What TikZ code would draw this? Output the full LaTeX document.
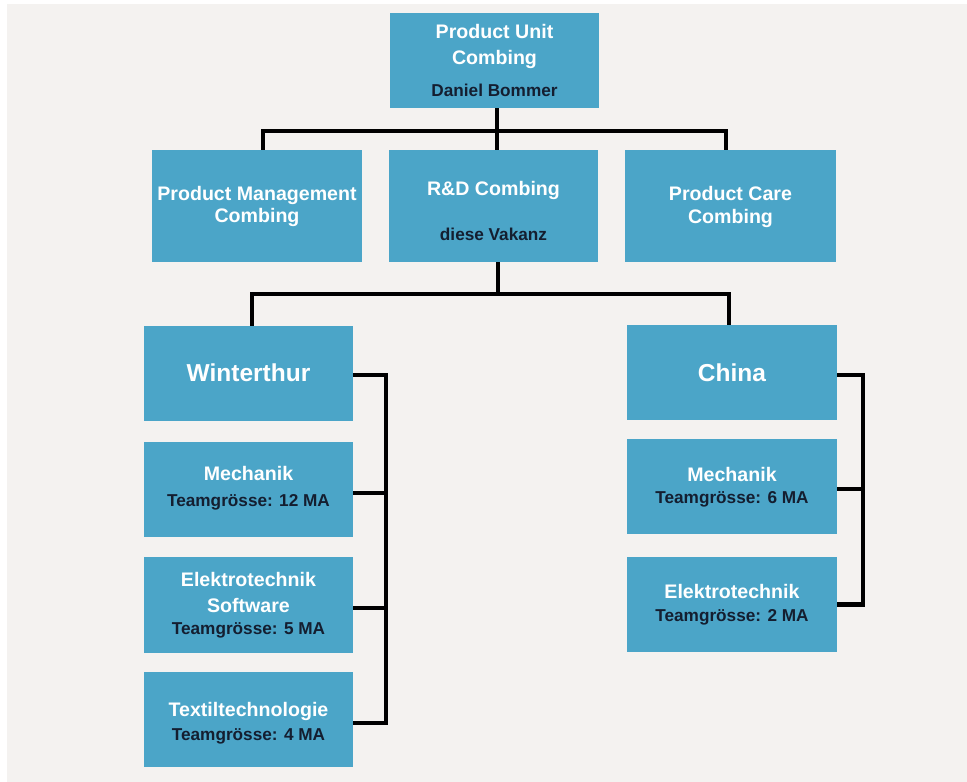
\documentclass[tikz,border=0pt]{standalone}
\usepackage{fontspec}
\setmainfont{Liberation Sans}
\usetikzlibrary{calc}
\definecolor{boxblue}{RGB}{75,165,200}
\definecolor{darktext}{RGB}{20,30,48}
\definecolor{bggray}{RGB}{244,242,240}
\begin{document}
\begin{tikzpicture}[x=1pt,y=-1pt,
  box/.style={rectangle,fill=boxblue,draw=none,inner sep=0pt},
  ttl/.style={anchor=base,inner sep=0pt,text=white,font=\bfseries\fontsize{19.6}{24}\selectfont},
  big/.style={anchor=base,inner sep=0pt,text=white,font=\bfseries\fontsize{24.5}{28}\selectfont},
  sub/.style={anchor=base,inner sep=0pt,text=darktext,font=\bfseries\fontsize{17.2}{20}\selectfont},
  conn/.style={draw=black,line width=4.5pt,line join=miter}]
\useasboundingbox (0,0) rectangle (967,782);
\fill[white] (0,0) rectangle (967,782);
\fill[bggray] (7,4) rectangle (967,782);

% boxes
\node[box,minimum width=209pt,minimum height=95pt] (pu) at (494.5,60.5) {};
\node[box,minimum width=210pt,minimum height=112pt] (pm) at (257,206) {};
\node[box,minimum width=209pt,minimum height=112pt] (rd) at (493.5,206) {};
\node[box,minimum width=211pt,minimum height=112pt] (pc) at (730.5,206) {};
\node[box,minimum width=209pt,minimum height=95pt] (wi) at (248.5,373.5) {};
\node[box,minimum width=209pt,minimum height=95pt] (wm) at (248.5,489.5) {};
\node[box,minimum width=209pt,minimum height=96pt] (we) at (248.5,605) {};
\node[box,minimum width=209pt,minimum height=95pt] (wt) at (248.5,719.5) {};
\node[box,minimum width=210pt,minimum height=95pt] (ch) at (732,372.5) {};
\node[box,minimum width=210pt,minimum height=95pt] (cm) at (732,486.5) {};
\node[box,minimum width=210pt,minimum height=95pt] (ce) at (732,604.5) {};

% texts
\node[ttl] (puA) at ($(pu.north)+(0,26)$) {Product Unit};
\node[ttl] (puB) at ($(pu.north)+(0,52)$) {Combing};
\node[sub] (puC) at ($(pu.north)+(0,84)$) {Daniel Bommer};
\node[ttl] (pmA) at ($(pm.north)+(0,51)$) {Product Management};
\node[ttl] (pmB) at ($(pm.north)+(0,73)$) {Combing};
\node[ttl] (rdA) at ($(rd.north)+(0,46)$) {R\&D Combing};
\node[sub] (rdB) at ($(rd.north)+(0,91)$) {diese Vakanz};
\node[ttl] (pcA) at ($(pc.north)+(0,51)$) {Product Care};
\node[ttl] (pcB) at ($(pc.north)+(0,74)$) {Combing};
\node[big] (wiA) at ($(wi.north)+(0,56)$) {Winterthur};
\node[big] (chA) at ($(ch.north)+(0,57)$) {China};
\node[ttl] (wmA) at ($(wm.north)+(0,39)$) {Mechanik};
\node[sub] (wmB) at ($(wm.north)+(0,65)$) {Teamgrösse: 12 MA};
\node[ttl] (weA) at ($(we.north)+(0,30)$) {Elektrotechnik};
\node[ttl] (weB) at ($(we.north)+(0,56)$) {Software};
\node[sub] (weC) at ($(we.north)+(0,78)$) {Teamgrösse: 5 MA};
\node[ttl] (wtA) at ($(wt.north)+(0,45)$) {Textiltechnologie};
\node[sub] (wtB) at ($(wt.north)+(0,69)$) {Teamgrösse: 4 MA};
\node[ttl] (cmA) at ($(cm.north)+(0,43)$) {Mechanik};
\node[sub] (cmB) at ($(cm.north)+(0,65)$) {Teamgrösse: 6 MA};
\node[ttl] (ceA) at ($(ce.north)+(0,42)$) {Elektrotechnik};
\node[sub] (ceB) at ($(ce.north)+(0,65)$) {Teamgrösse: 2 MA};

% connector columns
\coordinate (xA) at (263,0);
\coordinate (xB) at (497,0);
\coordinate (xC) at (726,0);
\coordinate (xD) at (498,0);
\coordinate (xE) at (252,0);
\coordinate (xF) at (729,0);
\coordinate (xW) at (386,0);
\coordinate (xK) at (863,0);

% top level
\draw[conn] (pm.north -| xA) -- ++(0,-19) -| (pc.north -| xC);
\draw[conn] (pu.south -| xB) -- (rd.north -| xB);
% R&D to sites
\draw[conn] (rd.south -| xD) -- ++(0,32);
\draw[conn] (wi.north -| xE) -- ++(0,-32) -| (ch.north -| xF);
% Winterthur
\coordinate (s1) at ([yshift=-1.5pt]wi.east);
\coordinate (s2) at ([yshift=-3.5pt]wm.east);
\coordinate (s3) at ([yshift=-3pt]we.east);
\coordinate (s4) at ([yshift=-3.5pt]wt.east);
\draw[conn] (s1) -- (s1 -| xW) -- (s4 -| xW) -- (s4);
\draw[conn] (s2) -- (s2 -| xW);
\draw[conn] (s3) -- (s3 -| xW);
% China
\coordinate (k1) at ([yshift=-2.5pt]ch.east);
\coordinate (k2) at ([yshift=-2.5pt]cm.east);
\coordinate (k3) at (ce.east);
\draw[conn] (k1) -- (k1 -| xK) -- (k3 -| xK) -- (k3);
\draw[conn] (k2) -- (k2 -| xK);
\end{tikzpicture}
\end{document}
